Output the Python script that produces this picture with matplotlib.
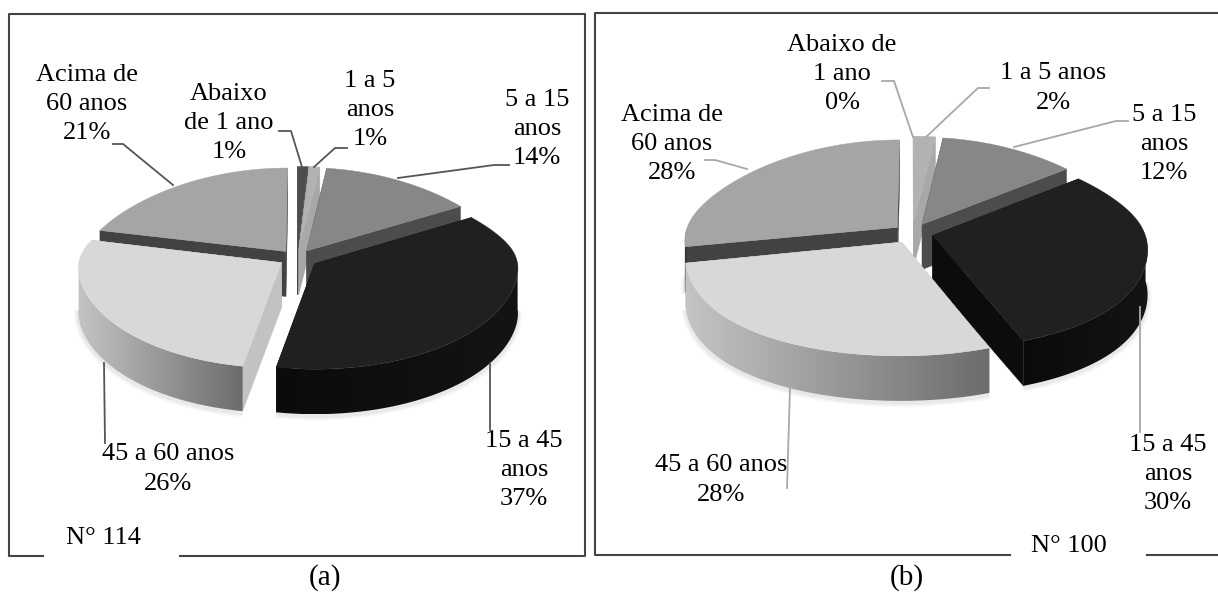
import numpy as np
import matplotlib
matplotlib.use('Agg')
import matplotlib.pyplot as plt
from matplotlib.colors import to_rgb
from matplotlib.patches import Polygon

plt.rcParams['font.family'] = ['Liberation Serif', 'DejaVu Serif']

# Data
categories_a = ['Abaixo\nde 1 ano', '1 a 5\nanos', '5 a 15\nanos', '15 a 45\nanos', '45 a 60 anos', 'Acima de\n60 anos']
categories_b = ['Abaixo de\n1 ano', '1 a 5 anos', '5 a 15\nanos', '15 a 45\nanos', '45 a 60 anos', 'Acima de\n60 anos']
values_a = [1, 1, 14, 37, 26, 21]
values_b = [0, 2, 12, 30, 28, 28]

# Styles, same order as the categories
top_colors = ['#4e4e4e', '#b2b2b2', '#878787', '#202020', '#d8d8d8', '#a5a5a5']
wall_colors = ['#3c3c3c', '#a8a8a8', '#4c4c4c', '#0c0c0c', '#c2c2c2', '#424242']
rim_left = ['#3c3c3c', '#909090', '#555555', '#0b0b0b', '#c4c4c4', '#383838']
rim_right = ['#3c3c3c', '#909090', '#555555', '#141414', '#6c6c6c', '#383838']

explode_a = [0.09, 0.09, 0.09, 0.105, 0.09, 0.09]
explode_b = [0.1, 0.1, 0.1, 0.1, 0.1, 0.09]

# Layout in pixels
label_pos_a = [(229, 123), (370, 110), (537, 129), (524, 470), (168, 469), (87, 104)]
label_pos_b = [(842, 74), (1053, 88), (1164, 144), (1168, 474), (721, 480), (672, 144)]
leaders_a = [[(279, 131), (291, 131), (302, 167)],
             [(347, 148), (335, 148), (314, 167)],
             [(509, 165), (494, 165), (398, 178)],
             [(490, 363), (490, 430)],
             [(104, 363), (105, 443)],
             [(113, 144), (123, 144), (173, 185)]]
leaders_b = [[(882, 81), (894, 81), (913, 137)],
             [(989, 88), (978, 88), (926, 137)],
             [(1128, 121), (1116, 121), (1014, 147)],
             [(1140, 307), (1140, 432)],
             [(790, 388), (787, 488)],
             [(705, 160), (715, 160), (747, 169)]]

DEPTH = 45
FONT = 19


def draw_pie(ax, values, explode, cx, cy, rx, ry_back, ry_front, k_front):
    total = sum(values)
    edges = np.concatenate([[0], np.cumsum(values)]) / total * 2 * np.pi

    def project(u, v):
        # back half is flatter than the front, blended so the outline has no kink
        b = 0.5 * (1 + np.tanh(v / 0.3))
        s = 1 / (1 + (k_front + (0.17 - k_front) * b) * v)
        return cx + rx * u * s, cy - (ry_front + (ry_back - ry_front) * b) * v

    mids = (edges[:-1] + edges[1:]) / 2
    order = list(np.argsort(-np.cos(mids)))
    for i in order:
        if values[i] == 0:
            continue
        ou, ov = explode[i] * np.sin(mids[i]), explode[i] * np.cos(mids[i])
        ang = np.linspace(edges[i], edges[i + 1], 120)
        xs, ys = project(ou + np.sin(ang), ov + np.cos(ang))
        px, py = project(np.array(ou), np.array(ov))
        px, py = float(px), float(py)

        front = np.cos(ang) < 0
        if front.any():
            # soft shadow under the front rim
            for lw, al in [(6, 0.05), (3, 0.08)]:
                ax.plot(xs[front], ys[front] + DEPTH + 2, color='#555555', lw=lw, alpha=al, zorder=1,
                        solid_capstyle='butt')

        z = 2 + 0.01 * order.index(i)
        # flat cut faces
        for j in [0, -1]:
            ax.fill([px, xs[j], xs[j], px], [py, ys[j], ys[j] + DEPTH, py + DEPTH],
                    color=wall_colors[i], lw=0.3, zorder=z)
        # outer rim, shaded from left to right
        if front.sum() > 1:
            rx_, ry_ = xs[front], ys[front]
            outline = np.column_stack([np.r_[rx_, rx_[::-1]], np.r_[ry_, ry_[::-1] + DEPTH]])
            ramp = np.linspace(0, 1, 256)[None, :, None]
            grad = np.array(to_rgb(rim_left[i]))[None, None, :] * (1 - ramp) + np.array(to_rgb(rim_right[i]))[None, None, :] * ramp
            im = ax.imshow(grad, extent=(rx_.min(), rx_.max(), ry_.max() + DEPTH, ry_.min()), aspect='auto',
                           interpolation='bilinear', zorder=z + 0.0005)
            im.set_clip_path(Polygon(outline, transform=ax.transData))
        # top face
        ax.fill(np.r_[px, xs], np.r_[py, ys], color=top_colors[i], lw=0.3, zorder=z + 0.001)


fig = plt.figure(figsize=(12.18, 5.92), dpi=100)
ax = fig.add_axes([0, 0, 1, 1])
ax.axis('off')

# panel frames, the bottom line leaves room for the N label
frame = dict(color='#444444', lw=1.5, zorder=1, solid_capstyle='projecting')
ax.plot([43, 9, 9, 585, 585, 180], [556, 556, 14, 14, 556, 556], **frame)
ax.plot([1010, 595, 595, 1218], [555, 555, 13, 13], **frame)
ax.plot([1147, 1218], [555, 555], **frame)

draw_pie(ax, values_a, explode_a, 297, 258, 202, 84, 105, 0.02)
draw_pie(ax, values_b, explode_b, 912, 233, 212, 88, 113, 0.12)

for cats, vals, pos, leaders, col in [(categories_a, values_a, label_pos_a, leaders_a, '#555555'),
                                      (categories_b, values_b, label_pos_b, leaders_b, '#a8a8a8')]:
    for cat, val, (x, y), leader in zip(cats, vals, pos, leaders):
        lx, ly = zip(*leader)
        ax.plot(lx, ly, color=col, lw=1.3, zorder=5)
        ax.text(x, y, f'{cat}\n{val}%', ha='center', va='center', fontsize=FONT, color='black',
                linespacing=1.42, zorder=6)

ax.text(103, 538, 'N° 114', ha='center', va='center', fontsize=FONT, zorder=6)
ax.text(1069, 546, 'N° 100', ha='center', va='center', fontsize=FONT, zorder=6)
ax.text(325, 578, '(a)', ha='center', va='center', fontsize=21)
ax.text(907, 578, '(b)', ha='center', va='center', fontsize=21)

ax.set_xlim(0, 1218)
ax.set_ylim(592, 0)

fig.savefig('out.png', dpi=100)
